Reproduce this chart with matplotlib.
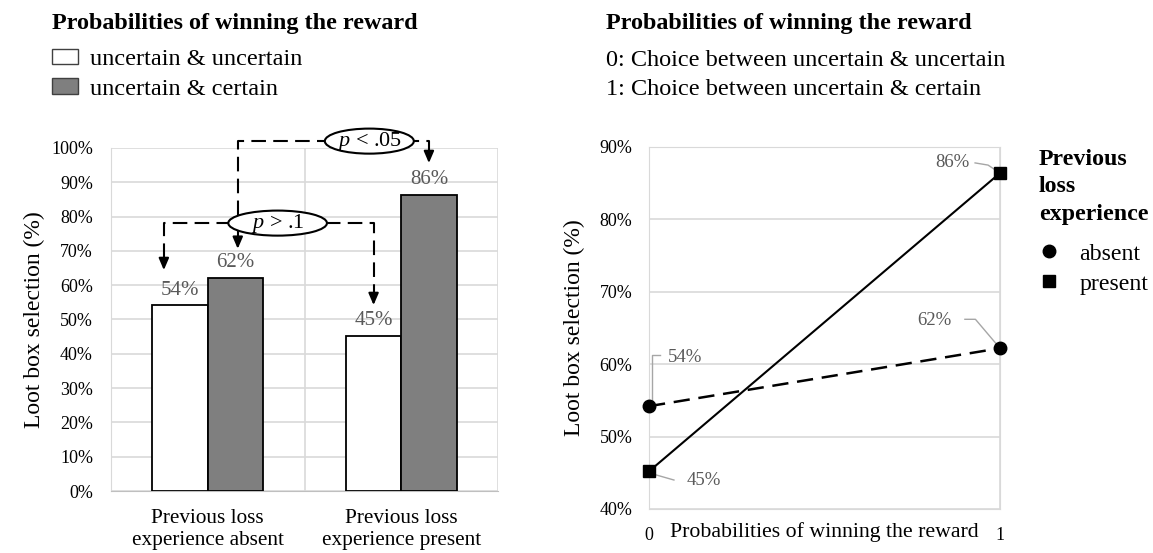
import matplotlib
matplotlib.use('Agg')
import matplotlib.pyplot as plt
from matplotlib.patches import Ellipse, Patch
from matplotlib.lines import Line2D
import numpy as np

plt.rcParams['font.family'] = ['Liberation Serif', 'DejaVu Serif']
plt.rcParams['mathtext.fontset'] = 'custom'
plt.rcParams['mathtext.rm'] = 'Liberation Serif'
plt.rcParams['mathtext.it'] = 'Liberation Serif:italic'

# data (% loot box selection)
groups = ['Previous loss\nexperience absent', 'Previous loss\nexperience present']
unc_unc = [54.2, 45.2]     # uncertain & uncertain
unc_cert = [62.2, 86.3]    # uncertain & certain
prob_x = [0, 1]
absent = [54.2, 62.2]
present = [45.2, 86.4]

grid_c = '#d9d9d9'
lab_c = '#595959'
lead_c = '#a6a6a6'

fig = plt.figure(figsize=(11.53, 5.53), dpi=100)

# ---------------- left: bar chart ----------------
ax1 = fig.add_axes([0.0963, 0.1121, 0.3356, 0.6203])
x = np.arange(len(groups))
w = 0.286
b1 = ax1.bar(x - w/2, unc_unc, w, color='white', edgecolor='black', lw=1.3, zorder=3)
b2 = ax1.bar(x + w/2, unc_cert, w, color='#7f7f7f', edgecolor='black', lw=1.3, zorder=3)
ax1.bar_label(b1, labels=[f'{v:.0f}%' for v in unc_unc], padding=4, color=lab_c, fontsize=15)
ax1.bar_label(b2, labels=[f'{v:.0f}%' for v in unc_cert], padding=4, color=lab_c, fontsize=15)

ax1.set_xlim(-0.5, 1.5)
ax1.set_ylim(0, 100)
ax1.set_xticks(x)
ax1.set_xticklabels(groups, fontsize=15.3, linespacing=1.2)
ax1.set_xticks([-0.5, 0.5, 1.5], minor=True)
yt = np.arange(0, 101, 10)
ax1.set_yticks(yt)
ax1.set_yticklabels([f'{v}%' for v in yt], fontsize=13)
ax1.tick_params(which='both', length=0)
ax1.tick_params(axis='y', pad=13)
ax1.tick_params(axis='x', pad=13)
ax1.grid(axis='y', color=grid_c, lw=1.2, zorder=0)
ax1.grid(axis='x', which='minor', color=grid_c, lw=1.2, zorder=0)
for s in ['top', 'right']:
    ax1.spines[s].set_visible(False)
ax1.spines['left'].set_color(grid_c)
ax1.spines['bottom'].set_color('#bfbfbf')
ax1.set_ylabel('Loot box selection (%)', fontsize=17)
ax1.yaxis.set_label_coords(-0.17, 0.5)

fig.text(52/1153, 1 - 24/553, 'Probabilities of winning the reward',
         fontsize=17.4, fontweight='bold', va='center')
ax1.legend([Patch(facecolor='white', edgecolor='#404040'),
            Patch(facecolor='#7f7f7f', edgecolor='#404040')],
           ['uncertain & uncertain', 'uncertain & certain'],
           loc='upper left', bbox_to_anchor=(52/1153, 1 - 49/553),
           bbox_transform=fig.transFigure, frameon=False,
           fontsize=17.5, handlelength=1.05, handleheight=0.6,
           handletextpad=0.5, labelspacing=0.33, borderpad=0, borderaxespad=0)


def bracket(ax, path, tips, ell_xy, ell_w, label):
    xs, ys = zip(*path)
    ax.plot(xs, ys, color='black', lw=1.5, dashes=(7, 3.5), clip_on=False, zorder=5)
    for tx, ty in tips:
        ax.annotate('', xy=(tx, ty), xytext=(tx, ty + 3.5),
                    arrowprops=dict(arrowstyle='-|>,head_length=0.7,head_width=0.3',
                                    color='black', lw=1.5, shrinkA=0, shrinkB=0),
                    annotation_clip=False, zorder=6)
    ax.add_patch(Ellipse(ell_xy, ell_w, 7.3, facecolor='white', edgecolor='black',
                         lw=1.5, clip_on=False, zorder=7))
    ax.text(ell_xy[0], ell_xy[1], label, ha='center', va='center', fontsize=16,
            zorder=8, clip_on=False)


# p < .05 : gray absent vs gray present
bracket(ax1, [(0.155, 70.6 + 3.5), (0.155, 102.0), (1.143, 102.0), (1.143, 95.6 + 3.5)],
        [(0.155, 70.6), (1.143, 95.6)], (0.835, 102.0), 0.46, r'$p$ < .05')
# p > .1 : white absent vs white present
bracket(ax1, [(-0.227, 64.4 + 3.5), (-0.227, 78.1), (0.857, 78.1), (0.857, 54.2 + 3.5)],
        [(-0.227, 64.4), (0.857, 54.2)], (0.361, 78.1), 0.51, r'$p$ > .1')

# ---------------- right: interaction line chart ----------------
ax2 = fig.add_axes([0.5629, 0.0796, 0.3044, 0.6546])
ax2.plot(prob_x, absent, color='black', lw=1.8, dashes=(6.5, 3.5), marker='o', ms=9,
         clip_on=False, zorder=4)
ax2.plot(prob_x, present, color='black', lw=1.5, marker='s', ms=9,
         clip_on=False, zorder=4)
ax2.set_xlim(0, 1)
ax2.set_ylim(40, 90)
ax2.set_xticks(prob_x)
ax2.set_xticklabels([str(v) for v in prob_x], fontsize=13)
yt2 = np.arange(40, 91, 10)
ax2.set_yticks(yt2)
ax2.set_yticklabels([f'{v}%' for v in yt2], fontsize=13)
ax2.tick_params(length=0)
ax2.tick_params(axis='y', pad=12)
ax2.tick_params(axis='x', pad=13)
ax2.grid(color=grid_c, lw=1.2, zorder=0)
for s in ax2.spines.values():
    s.set_color(grid_c)
ax2.set_ylabel('Loot box selection (%)', fontsize=17)
ax2.yaxis.set_label_coords(-0.182, 0.5)
ax2.set_xlabel('Probabilities of winning the reward', fontsize=15.7)
ax2.xaxis.set_label_coords(0.5, -0.063)
ax2.xaxis.label.set_va('center')


def leader(ax, px, py, offs, text, tx, ty, ha):
    lx = [px + o[0] for o in offs]
    ly = [py + o[1] for o in offs]
    ax.plot(lx, ly, color=lead_c, lw=1, clip_on=False, zorder=3)
    ax.text(px + tx, py + ty, text, ha=ha, va='center', color=lab_c, fontsize=13.5)


leader(ax2, prob_x[0], absent[0], [(0.009, 0), (0.009, 7.0), (0.031, 7.0)],
       f'{absent[0]:.0f}%', 0.054, 6.7, 'left')
leader(ax2, prob_x[0], present[0], [(0.006, -0.3), (0.071, -1.2)],
       f'{present[0]:.0f}%', 0.108, -1.2, 'left')
leader(ax2, prob_x[1], present[1], [(-0.071, 1.4), (-0.034, 1.1), (0, 0)],
       f'{present[1]:.0f}%', -0.088, 1.4, 'right')
leader(ax2, prob_x[1], absent[1], [(-0.10, 4.0), (-0.07, 4.0), (0, 0)],
       f'{absent[1]:.0f}%', -0.137, 3.9, 'right')

fig.text(1039/1153, 1 - 149/553, 'Previous\nloss\nexperience', fontsize=17.2,
         fontweight='bold', va='top', ha='left', linespacing=1.4)
ax2.legend([Line2D([], [], marker='o', ls='', color='black', ms=9),
            Line2D([], [], marker='s', ls='', color='black', ms=8)],
           ['absent', 'present'],
           loc='upper left', bbox_to_anchor=(1039/1153, 1 - 243/553),
           bbox_transform=fig.transFigure, frameon=False,
           fontsize=17.2, handlelength=0.8, handletextpad=0.9,
           labelspacing=0.35, borderpad=0, borderaxespad=0)

fig.text(606/1153, 1 - 23/553, 'Probabilities of winning the reward',
         fontsize=17.4, fontweight='bold', va='center')
fig.text(606/1153, 1 - 61/553, '0: Choice between uncertain & uncertain',
         fontsize=17.5, va='center')
fig.text(606/1153, 1 - 90/553, '1: Choice between uncertain & certain',
         fontsize=17.5, va='center')

fig.savefig('out.png', dpi=100)
